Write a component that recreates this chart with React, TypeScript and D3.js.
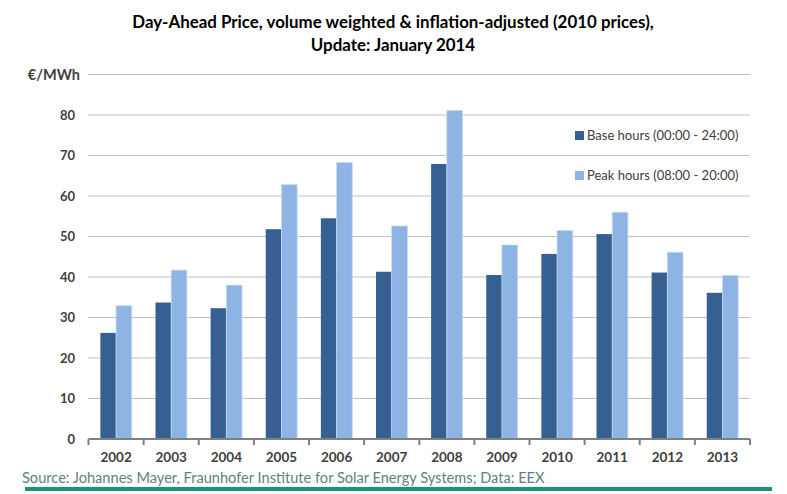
import React from "react";
import * as d3 from "d3";

const years = ["2002","2003","2004","2005","2006","2007","2008","2009","2010","2011","2012","2013"];
const baseHours = [26.2, 33.7, 32.3, 51.8, 54.5, 41.3, 67.9, 40.5, 45.7, 50.6, 41.1, 36.1];
const peakHours = [32.9, 41.7, 38.0, 62.8, 68.3, 52.6, 81.1, 47.9, 51.5, 56.0, 46.1, 40.4];
const yTicks = [0, 10, 20, 30, 40, 50, 60, 70, 80];
const seriesNames = ["Base hours (00:00 - 24:00)", "Peak hours (08:00 - 20:00)"];
const titleLines = ["Day-Ahead Price, volume weighted & inflation-adjusted (2010 prices),", "Update: January 2014"];
const unitLabel = "€/MWh";
const sourceText = "Source: Johannes Mayer, Fraunhofer Institute for Solar Energy Systems; Data: EEX";

const W = 787, H = 494;
const FONT = "Lato, 'Open Sans', sans-serif";
const BASE_COLOR = "#376092";
const PEAK_COLOR = "#8EB4E3";

export default function App() {
  const x = d3.scaleBand<string>().domain(years).range([88.5, 750]);
  const y = d3.scaleLinear().domain([0, 90]).range([439, 74.5]);
  const barW = 15.7;
  const gridVals = [...yTicks.slice(1), 90];

  return (
    <svg width={W} height={H} style={{ position: "absolute", left: 0, top: 0, background: "#fff" }}>
      {titleLines.map((t, i) => (
        <text key={i} x={393} y={28 + i * 23} textAnchor="middle" fontFamily={FONT} fontWeight="bold" fontSize={16.9} fill="#000">{t}</text>
      ))}
      {gridVals.map((v) => (
        <line key={v} x1={88} x2={750} y1={y(v)} y2={y(v)} stroke="#BFBFBF" strokeWidth={1.2} />
      ))}
      {yTicks.map((v) => (
        <text key={v} x={75} y={y(v)} dy="0.35em" textAnchor="end" fontFamily={FONT} fontWeight="bold" fontSize={13} fill="#404040">{v}</text>
      ))}
      <text x={80} y={y(90)} dy="0.35em" textAnchor="end" fontFamily={FONT} fontWeight="bold" fontSize={14.5} fill="#404040">{unitLabel}</text>
      {years.map((yr, i) => {
        const cx = (x(yr) as number) + x.bandwidth() / 2;
        return (
          <g key={yr}>
            <rect x={cx - barW} y={y(baseHours[i])} width={barW} height={y(0) - y(baseHours[i])} fill={BASE_COLOR} />
            <rect x={cx} y={y(peakHours[i])} width={barW} height={y(0) - y(peakHours[i])} fill={PEAK_COLOR} stroke="#C6D9F1" strokeWidth={0.8} />
            <text x={cx} y={462} textAnchor="middle" fontFamily={FONT} fontWeight="bold" fontSize={13.5} fill="#404040">{yr}</text>
          </g>
        );
      })}
      <line x1={88.5} x2={750} y1={y(0)} y2={y(0)} stroke="#808080" strokeWidth={2} />
      {[...years.map((yr) => x(yr) as number), 750].map((t, i) => (
        <line key={i} x1={t} x2={t} y1={y(0)} y2={y(0) + 6} stroke="#808080" strokeWidth={2} />
      ))}
      {seriesNames.map((name, i) => (
        <g key={name}>
          <rect x={575} y={131 + i * 40} width={9} height={9} fill={i === 0 ? BASE_COLOR : PEAK_COLOR} />
          <text x={587} y={135.5 + i * 40} dy="0.35em" fontFamily={FONT} fontSize={13} fill="#404040">{name}</text>
        </g>
      ))}
      <text x={22} y={483} fontFamily={FONT} fontSize={14.6} fill="#5F7F82">{sourceText}</text>
      <rect x={25} y={487} width={747} height={4} fill="#159677" />
    </svg>
  );
}
